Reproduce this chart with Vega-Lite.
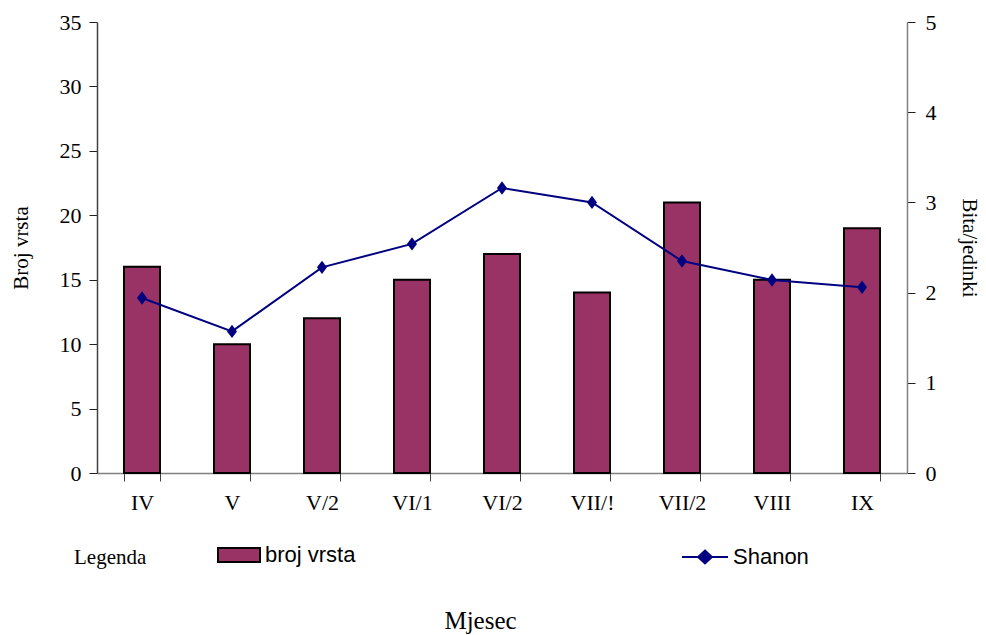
{
  "$schema": "https://vega.github.io/schema/vega-lite/v6.json",
  "width": 810,
  "height": 451,
  "autosize": {"type": "none"},
  "padding": {"left": 97, "top": 22, "right": 79, "bottom": 162},
  "background": "white",
  "config": {"view": {"stroke": null}, "font": "Liberation Serif"},
  "data": {
    "values": [
      {"mjesec": "IV", "broj": 16, "shanon": 1.94},
      {"mjesec": "V", "broj": 10, "shanon": 1.57},
      {"mjesec": "V/2", "broj": 12, "shanon": 2.28},
      {"mjesec": "VI/1", "broj": 15, "shanon": 2.54},
      {"mjesec": "VI/2", "broj": 17, "shanon": 3.16},
      {"mjesec": "VII/!", "broj": 14, "shanon": 3.0},
      {"mjesec": "VII/2", "broj": 21, "shanon": 2.35},
      {"mjesec": "VIII", "broj": 15, "shanon": 2.14},
      {"mjesec": "IX", "broj": 19, "shanon": 2.06}
    ]
  },
  "encoding": {
    "x": {
      "field": "mjesec",
      "type": "nominal",
      "sort": null,
      "scale": {"paddingInner": 0.6, "paddingOuter": 0.3},
      "axis": {
        "title": "Mjesec",
        "titleFont": "Liberation Serif",
        "titleFontSize": 25,
        "titleFontWeight": "normal",
        "titleColor": "black",
        "titleX": 383,
        "titleY": 155,
        "titleBaseline": "alphabetic",
        "labelFont": "Liberation Serif",
        "labelFontSize": 22,
        "labelColor": "black",
        "labelAngle": 0,
        "labelPadding": 11,
        "tickBand": "extent",
        "tickSize": 8,
        "tickColor": "#404040",
        "domainColor": "#808080",
        "domainWidth": 1.5,
        "grid": false
      }
    }
  },
  "layer": [
    {
      "mark": {"type": "bar", "stroke": "black", "strokeWidth": 2},
      "encoding": {
        "y": {
          "field": "broj",
          "type": "quantitative",
          "scale": {"domain": [0, 35]},
          "axis": {
            "title": "Broj vrsta",
            "titleFont": "Liberation Serif",
            "titleFontSize": 21,
            "titleFontWeight": "normal",
            "titleColor": "black",
            "titlePadding": 28,
            "values": [0, 5, 10, 15, 20, 25, 30, 35],
            "labelFont": "Liberation Serif",
            "labelFontSize": 22,
            "labelColor": "black",
            "labelPadding": 8,
            "tickSize": 8,
            "tickColor": "#202020",
            "domainColor": "#404040",
            "domainWidth": 1.5,
            "grid": false
          }
        },
        "fill": {
          "datum": "broj vrsta",
          "scale": {"range": ["#993366"]},
          "legend": {
            "orient": "none",
            "legendX": -23,
            "legendY": 511,
            "padding": 0,
            "title": ["", "Legenda"],
            "titleLineHeight": 17,
            "titleOrient": "left",
            "titleFont": "Liberation Serif",
            "titleFontSize": 21,
            "titleFontWeight": "normal",
            "titleColor": "black",
            "titlePadding": 70,
            "labelFont": "Liberation Sans",
            "labelFontSize": 22,
            "labelColor": "black",
            "labelOffset": 4,
            "symbolType": "M-1,-0.33L1,-0.33L1,0.33L-1,0.33Z",
            "symbolSize": 1764,
            "symbolStrokeColor": "black",
            "symbolStrokeWidth": 2
          }
        }
      }
    },
    {
      "encoding": {
        "y": {
          "field": "shanon",
          "type": "quantitative",
          "scale": {"domain": [0, 5]},
          "axis": {
            "orient": "right",
            "title": "Bita/jedinki",
            "titleFont": "Liberation Serif",
            "titleFontSize": 21,
            "titleFontWeight": "normal",
            "titleColor": "black",
            "titlePadding": 22,
            "values": [0, 1, 2, 3, 4, 5],
            "labelFont": "Liberation Serif",
            "labelFontSize": 22,
            "labelColor": "black",
            "labelPadding": 10,
            "tickSize": 8,
            "tickColor": "#202020",
            "domainColor": "#808080",
            "domainWidth": 1.5,
            "grid": false
          }
        }
      },
      "layer": [
        {
          "mark": {"type": "line", "strokeWidth": 2},
          "encoding": {
            "stroke": {
              "datum": "Shanon",
              "scale": {"range": ["#000080"]},
              "legend": {
                "orient": "none",
                "legendX": 584,
                "legendY": 511,
                "padding": 0,
                "title": null,
                "labelFont": "Liberation Sans",
                "labelFontSize": 22,
                "labelColor": "black",
                "labelOffset": 4,
                "symbolType": "M-1,0L1,0M0,-0.28L0.3,0L0,0.28L-0.3,0Z",
                "symbolSize": 2116,
                "symbolStrokeColor": "#000080",
                "symbolFillColor": "#000080",
                "symbolStrokeWidth": 2
              }
            }
          }
        },
        {
          "mark": {
            "type": "point",
            "shape": "M0,-1L0.75,0L0,1L-0.75,0Z",
            "filled": true,
            "color": "#000080",
            "opacity": 1,
            "size": 180
          },
          "encoding": {}
        }
      ]
    }
  ],
  "resolve": {"scale": {"y": "independent"}}
}
